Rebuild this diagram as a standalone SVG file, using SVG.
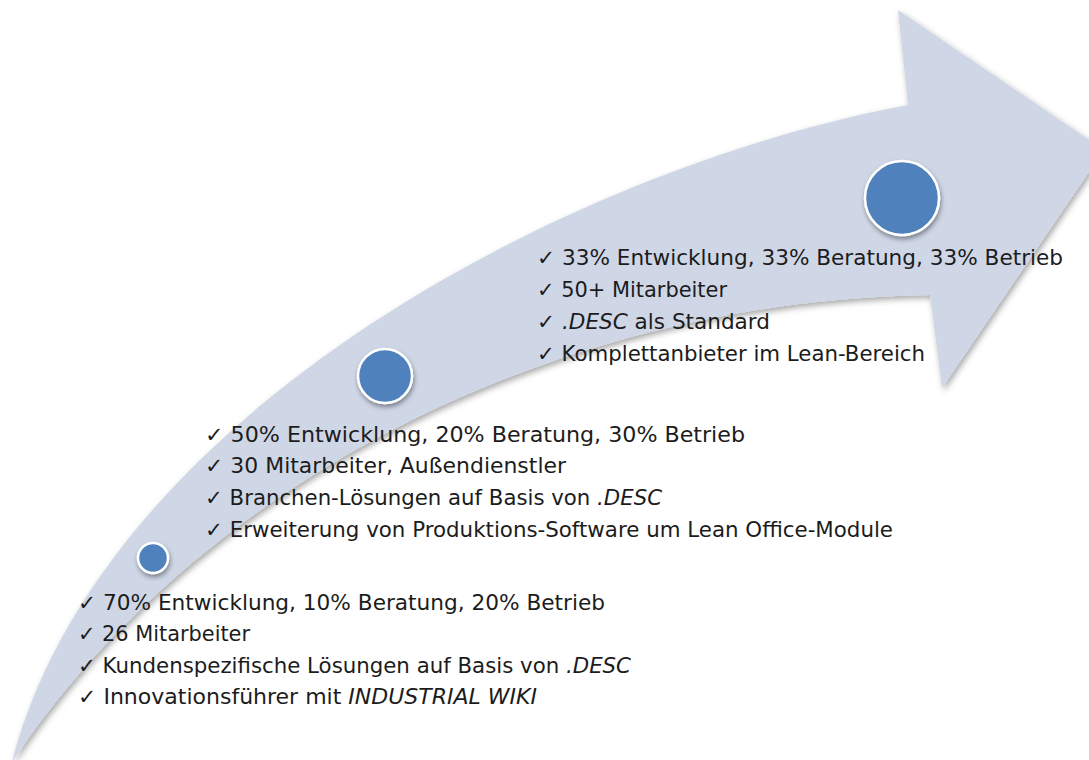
<svg xmlns="http://www.w3.org/2000/svg" width="1089" height="760" viewBox="0 0 1089 760">
<defs>
<filter id="sh" x="-10%" y="-10%" width="130%" height="130%">
<feDropShadow dx="2" dy="3" stdDeviation="3" flood-color="#000" flood-opacity="0.35"/>
</filter>
<filter id="csh" x="-30%" y="-30%" width="160%" height="160%">
<feDropShadow dx="1" dy="3" stdDeviation="2.5" flood-color="#000" flood-opacity="0.4"/>
</filter>
</defs>
<style>
.arrow{fill:#cfd7e7;}
.dot{fill:#4f81bd;stroke:#ffffff;stroke-width:2.5;}
.t{font-family:"DejaVu Sans",Verdana,"Liberation Sans",sans-serif;font-size:21px;fill:#1c1c1c;}
.i{font-style:italic;}
</style>
<rect width="1089" height="760" fill="#ffffff"/>
<g id="arrow" filter="url(#sh)">
<path class="arrow" d="M12,762 C100,420 560,170 908,105 L898,10 L1104,150 L942,388 L930,295 C560,300 200,480 12,762 Z"/>
</g>
<g id="connectors"></g>
<g id="stage1">
<circle class="dot" cx="153" cy="558" r="15" filter="url(#csh)"/>
<text class="t" x="78" y="610" textLength="527" lengthAdjust="spacingAndGlyphs">✓ 70% Entwicklung, 10% Beratung, 20% Betrieb</text>
<text class="t" x="78" y="641" textLength="172" lengthAdjust="spacingAndGlyphs">✓ 26 Mitarbeiter</text>
<text class="t" x="78" y="673" textLength="553" lengthAdjust="spacingAndGlyphs">✓ Kundenspezifische Lösungen auf Basis von <tspan class="i">.DESC</tspan></text>
<text class="t" x="78" y="704" textLength="459" lengthAdjust="spacingAndGlyphs">✓ Innovationsführer mit <tspan class="i">INDUSTRIAL WIKI</tspan></text>
</g>
<g id="stage2">
<circle class="dot" cx="385" cy="376" r="27" filter="url(#csh)"/>
<text class="t" x="205" y="442" textLength="540" lengthAdjust="spacingAndGlyphs">✓ 50% Entwicklung, 20% Beratung, 30% Betrieb</text>
<text class="t" x="205" y="473" textLength="361" lengthAdjust="spacingAndGlyphs">✓ 30 Mitarbeiter, Außendienstler</text>
<text class="t" x="205" y="505" textLength="457" lengthAdjust="spacingAndGlyphs">✓ Branchen-Lösungen auf Basis von <tspan class="i">.DESC</tspan></text>
<text class="t" x="205" y="537" textLength="688" lengthAdjust="spacingAndGlyphs">✓ Erweiterung von Produktions-Software um Lean Office-Module</text>
</g>
<g id="stage3">
<circle class="dot" cx="902" cy="198" r="37" filter="url(#csh)"/>
<text class="t" x="537" y="265" textLength="526" lengthAdjust="spacingAndGlyphs">✓ 33% Entwicklung, 33% Beratung, 33% Betrieb</text>
<text class="t" x="537" y="297" textLength="190" lengthAdjust="spacingAndGlyphs">✓ 50+ Mitarbeiter</text>
<text class="t" x="537" y="329" textLength="233" lengthAdjust="spacingAndGlyphs">✓ <tspan class="i">.DESC</tspan> als Standard</text>
<text class="t" x="537" y="361" textLength="388" lengthAdjust="spacingAndGlyphs">✓ Komplettanbieter im Lean-Bereich</text>
</g>
</svg>
